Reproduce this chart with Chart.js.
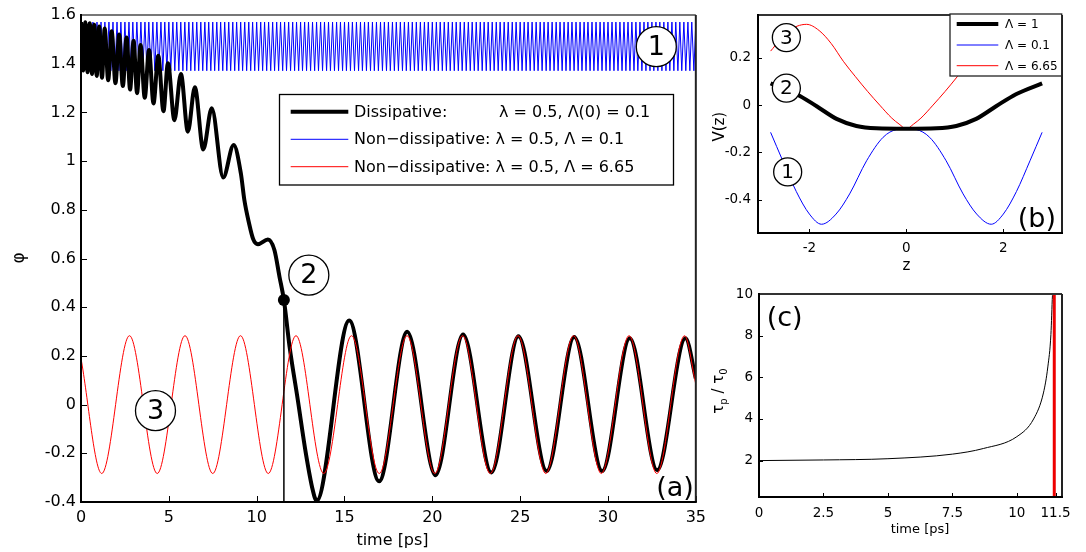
<!DOCTYPE html>
<html>
<head>
<meta charset="utf-8">
<title>Phase dynamics</title>
<script src="https://cdn.jsdelivr.net/npm/chart.js@4.4.1/dist/chart.umd.min.js"></script>
<style>
  html, body { margin: 0; padding: 0; background: #fff; }
  #wrap { position: relative; width: 1086px; height: 552px; overflow: hidden; background: #fff; }
  canvas { position: absolute; }
  #phaseChart { left: 0; top: 0; }
  #potentialChart { left: 700px; top: 0; }
  #ratioChart { left: 700px; top: 280px; }
</style>
</head>
<body>
<div id="wrap">
  <canvas id="phaseChart" width="712" height="552"></canvas>
  <canvas id="potentialChart" width="386" height="280"></canvas>
  <canvas id="ratioChart" width="386" height="272"></canvas>
</div>
<script>
const FONT = "'DejaVu Sans', sans-serif";

// (a) phase against time
const timeTicks = [0, 5, 10, 15, 20, 25, 30, 35];
const phiTicks = [-0.4, -0.2, 0, 0.2, 0.4, 0.6, 0.8, 1, 1.2, 1.4, 1.6];

// dissipative run, extrema and a few points on the fast descent
const dissTime = [
  0, 0.125, 0.244, 0.374, 0.499, 0.629, 0.754, 0.896, 1.037, 1.196,
  1.349, 1.548, 1.746, 1.961, 2.171, 2.381, 2.596, 2.795, 2.993, 3.192,
  3.39, 3.628, 3.872, 4.127, 4.399, 4.694, 4.949, 5.317, 5.686, 6.083,
  6.48, 6.961, 7.443, 8.095, 8.69, 9.1, 9.3, 9.55, 9.8, 10.07,
  10.64, 11.01, 11.3, 11.55, 11.87, 12.34, 12.8, 13.19, 13.41, 15.27,
  16.97, 18.57, 20.18, 21.75, 23.36, 24.9, 26.51, 28.08, 29.67, 31.24,
  32.8, 34.41, 35
];
const dissPhi = [
  1.571, 1.372, 1.570, 1.365, 1.566, 1.358, 1.560, 1.350, 1.553, 1.342,
  1.545, 1.332, 1.533, 1.320, 1.520, 1.308, 1.508, 1.294, 1.494, 1.279,
  1.477, 1.260, 1.456, 1.237, 1.433, 1.205, 1.402, 1.168, 1.358, 1.121,
  1.303, 1.048, 1.217, 0.933, 1.066, 0.95, 0.84, 0.75, 0.68, 0.659,
  0.678, 0.635, 0.525, 0.43, 0.24, 0.02, -0.2, -0.35, -0.395, 0.345,
  -0.315, 0.299, -0.29, 0.288, -0.279, 0.281, -0.273, 0.278, -0.273, 0.272,
  -0.269, 0.272, 0.107
];

// non-dissipative, Lambda = 0.1 (fast small oscillation near pi/2)
const blueTime = [
  0, 0.11, 0.23, 0.34, 0.45, 0.57, 0.68, 0.8, 0.91, 1.02, 1.14,
  1.25, 1.36, 1.48, 1.59, 1.7, 1.82, 1.93, 2.05, 2.16, 2.27, 2.39,
  2.5, 2.61, 2.73, 2.84, 2.95, 3.07, 3.18, 3.3, 3.41, 3.52, 3.64,
  3.75, 3.86, 3.98, 4.09, 4.2, 4.32, 4.43, 4.55, 4.66, 4.77, 4.89,
  5, 5.11, 5.23, 5.34, 5.45, 5.57, 5.68, 5.8, 5.91, 6.02, 6.14,
  6.25, 6.36, 6.48, 6.59, 6.7, 6.82, 6.93, 7.05, 7.16, 7.27, 7.39,
  7.5, 7.61, 7.73, 7.84, 7.95, 8.07, 8.18, 8.3, 8.41, 8.52, 8.64,
  8.75, 8.86, 8.98, 9.09, 9.2, 9.32, 9.43, 9.55, 9.66, 9.77, 9.89,
  10, 10.11, 10.23, 10.34, 10.45, 10.57, 10.68, 10.8, 10.91, 11.02, 11.14,
  11.25, 11.36, 11.48, 11.59, 11.7, 11.82, 11.93, 12.05, 12.16, 12.27, 12.39,
  12.5, 12.61, 12.73, 12.84, 12.95, 13.07, 13.18, 13.3, 13.41, 13.52, 13.64,
  13.75, 13.86, 13.98, 14.09, 14.2, 14.32, 14.43, 14.55, 14.66, 14.77, 14.89,
  15, 15.11, 15.23, 15.34, 15.45, 15.57, 15.68, 15.8, 15.91, 16.02, 16.14,
  16.25, 16.36, 16.48, 16.59, 16.7, 16.82, 16.93, 17.05, 17.16, 17.27, 17.39,
  17.5, 17.61, 17.73, 17.84, 17.95, 18.07, 18.18, 18.3, 18.41, 18.52, 18.64,
  18.75, 18.86, 18.98, 19.09, 19.2, 19.32, 19.43, 19.55, 19.66, 19.77, 19.89,
  20, 20.11, 20.23, 20.34, 20.45, 20.57, 20.68, 20.8, 20.91, 21.02, 21.14,
  21.25, 21.36, 21.48, 21.59, 21.7, 21.82, 21.93, 22.05, 22.16, 22.27, 22.39,
  22.5, 22.61, 22.73, 22.84, 22.95, 23.07, 23.18, 23.3, 23.41, 23.52, 23.64,
  23.75, 23.86, 23.98, 24.09, 24.2, 24.32, 24.43, 24.55, 24.66, 24.77, 24.89,
  25, 25.11, 25.23, 25.34, 25.45, 25.57, 25.68, 25.8, 25.91, 26.02, 26.14,
  26.25, 26.36, 26.48, 26.59, 26.7, 26.82, 26.93, 27.05, 27.16, 27.27, 27.39,
  27.5, 27.61, 27.73, 27.84, 27.95, 28.07, 28.18, 28.3, 28.41, 28.52, 28.64,
  28.75, 28.86, 28.98, 29.09, 29.2, 29.32, 29.43, 29.55, 29.66, 29.77, 29.89,
  30, 30.11, 30.23, 30.34, 30.45, 30.57, 30.68, 30.8, 30.91, 31.02, 31.14,
  31.25, 31.36, 31.48, 31.59, 31.7, 31.82, 31.93, 32.05, 32.16, 32.27, 32.39,
  32.5, 32.61, 32.73, 32.84, 32.95, 33.07, 33.18, 33.3, 33.41, 33.52, 33.64,
  33.75, 33.86, 33.98, 34.09, 34.2, 34.32, 34.43, 34.55, 34.66, 34.77, 34.89,
  35
];
const bluePhi = [
  1.571, 1.371, 1.571, 1.371, 1.571, 1.371, 1.571, 1.371, 1.571, 1.371, 1.571, 1.371, 1.571, 1.371, 1.571, 1.371, 1.571, 1.371, 1.571, 1.371, 1.571, 1.371,
  1.571, 1.371, 1.571, 1.371, 1.571, 1.371, 1.571, 1.371, 1.571, 1.371, 1.571, 1.371, 1.571, 1.371, 1.571, 1.371, 1.571, 1.371, 1.571, 1.371, 1.571, 1.371,
  1.571, 1.371, 1.571, 1.371, 1.571, 1.371, 1.571, 1.371, 1.571, 1.371, 1.571, 1.371, 1.571, 1.371, 1.571, 1.371, 1.571, 1.371, 1.571, 1.371, 1.571, 1.371,
  1.571, 1.371, 1.571, 1.371, 1.571, 1.371, 1.571, 1.371, 1.571, 1.371, 1.571, 1.371, 1.571, 1.371, 1.571, 1.371, 1.571, 1.371, 1.571, 1.371, 1.571, 1.371,
  1.571, 1.371, 1.571, 1.371, 1.571, 1.371, 1.571, 1.371, 1.571, 1.371, 1.571, 1.371, 1.571, 1.371, 1.571, 1.371, 1.571, 1.371, 1.571, 1.371, 1.571, 1.371,
  1.571, 1.371, 1.571, 1.371, 1.571, 1.371, 1.571, 1.371, 1.571, 1.371, 1.571, 1.371, 1.571, 1.371, 1.571, 1.371, 1.571, 1.371, 1.571, 1.371, 1.571, 1.371,
  1.571, 1.371, 1.571, 1.371, 1.571, 1.371, 1.571, 1.371, 1.571, 1.371, 1.571, 1.371, 1.571, 1.371, 1.571, 1.371, 1.571, 1.371, 1.571, 1.371, 1.571, 1.371,
  1.571, 1.371, 1.571, 1.371, 1.571, 1.371, 1.571, 1.371, 1.571, 1.371, 1.571, 1.371, 1.571, 1.371, 1.571, 1.371, 1.571, 1.371, 1.571, 1.371, 1.571, 1.371,
  1.571, 1.371, 1.571, 1.371, 1.571, 1.371, 1.571, 1.371, 1.571, 1.371, 1.571, 1.371, 1.571, 1.371, 1.571, 1.371, 1.571, 1.371, 1.571, 1.371, 1.571, 1.371,
  1.571, 1.371, 1.571, 1.371, 1.571, 1.371, 1.571, 1.371, 1.571, 1.371, 1.571, 1.371, 1.571, 1.371, 1.571, 1.371, 1.571, 1.371, 1.571, 1.371, 1.571, 1.371,
  1.571, 1.371, 1.571, 1.371, 1.571, 1.371, 1.571, 1.371, 1.571, 1.371, 1.571, 1.371, 1.571, 1.371, 1.571, 1.371, 1.571, 1.371, 1.571, 1.371, 1.571, 1.371,
  1.571, 1.371, 1.571, 1.371, 1.571, 1.371, 1.571, 1.371, 1.571, 1.371, 1.571, 1.371, 1.571, 1.371, 1.571, 1.371, 1.571, 1.371, 1.571, 1.371, 1.571, 1.371,
  1.571, 1.371, 1.571, 1.371, 1.571, 1.371, 1.571, 1.371, 1.571, 1.371, 1.571, 1.371, 1.571, 1.371, 1.571, 1.371, 1.571, 1.371, 1.571, 1.371, 1.571, 1.371,
  1.571, 1.371, 1.571, 1.371, 1.571, 1.371, 1.571, 1.371, 1.571, 1.371, 1.571, 1.371, 1.571, 1.371, 1.571, 1.371, 1.571, 1.371, 1.571, 1.371, 1.571, 1.371,
  1.571
];

// non-dissipative, Lambda = 6.65 (oscillation around zero)
const redTime = [
  0, 1.18, 2.76, 4.34, 5.92, 7.5, 9.08, 10.66, 12.24, 13.82, 15.4, 16.98,
  18.56, 20.14, 21.72, 23.3, 24.88, 26.46, 28.04, 29.62, 31.2, 32.78, 34.36, 35
];
const redPhi = [
  0.19, -0.283, 0.283, -0.283, 0.283, -0.283, 0.283, -0.283, 0.283, -0.283, 0.283, -0.283,
  0.283, -0.283, 0.283, -0.283, 0.283, -0.283, 0.283, -0.283, 0.283, -0.283, 0.283, 0.083
];

// switching moment marked on the dissipative curve
const switchTime = [11.55];
const switchPhi = [0.43];

// (b) potential V(z)
const zTicks = [-2, 0, 2];
const vTicks = [-0.4, -0.2, 0, 0.2];
const zBlack = [-2.8, -2.26, -1.85, -1.44, -1.03, -0.62, 0, 0.62, 1.03, 1.44, 1.85, 2.26, 2.8];
const vBlack = [0.092, 0.046, -0.005, -0.058, -0.088, -0.098, -0.1, -0.098, -0.088, -0.058, -0.005, 0.046, 0.092];
const zBlue = [-2.8, -2.55, -2.27, -2.0, -1.75, -1.45, -1.17, -0.82, -0.48, -0.2, 0, 0.2, 0.48, 0.82, 1.17, 1.45, 1.75, 2.0, 2.27, 2.55, 2.8];
const vBlue = [-0.115, -0.235, -0.365, -0.46, -0.503, -0.46, -0.375, -0.235, -0.136, -0.103, -0.1, -0.103, -0.136, -0.235, -0.375, -0.46, -0.503, -0.46, -0.365, -0.235, -0.115];
const zRed = [-2.8, -2.45, -2.06, -1.8, -1.55, -1.3, -1.05, -0.8, -0.55, -0.3, -0.15, 0, 0.15, 0.3, 0.55, 0.8, 1.05, 1.3, 1.55, 1.8, 2.06, 2.45, 2.8];
const vRed = [0.228, 0.31, 0.341, 0.315, 0.26, 0.185, 0.12, 0.058, 0.0, -0.055, -0.08, -0.1, -0.08, -0.055, 0.0, 0.058, 0.12, 0.185, 0.26, 0.315, 0.341, 0.31, 0.228];

// (c) tau_p / tau_0 against time
const ratioTimeTicks = [0, 2.5, 5, 7.5, 10, 11.5];
const ratioTicks = [2, 4, 6, 8, 10];
const ratioTime = [0, 2.5, 5, 7.5, 8.7, 10, 10.65, 11.03, 11.2, 11.32, 11.38, 11.42];
const ratioVal = [2, 2.03, 2.09, 2.31, 2.58, 3.15, 4.0, 5.25, 6.5, 8.06, 9.94, 10.6];
const cutoffTime = [11.45, 11.45];
const cutoffVal = [0.25, 10];

const pts = (xs, ys) => xs.map((x, i) => ({ x: x, y: ys[i] }));

// linear axis with fixed tick values and a fixed box size
function axis(min, max, values, size, pad, fit) {
  return {
    type: "linear",
    min: min,
    max: max,
    afterBuildTicks: (s) => {
      s.ticks = values.map((v) => ({ value: v }));
    },
    afterFit: fit,
    grid: { display: false, drawTicks: false },
    border: { display: false },
    ticks: {
      font: { family: FONT, size: size },
      color: "#000",
      padding: pad,
      autoSkip: false,
      maxRotation: 0,
      callback: (v) => String(v),
    },
  };
}

function baseOptions(padding, scales) {
  return {
    responsive: false,
    animation: false,
    events: [],
    layout: { padding: padding },
    plugins: { legend: { display: false }, tooltip: { enabled: false } },
    elements: {
      point: { radius: 0 },
      line: { cubicInterpolationMode: "monotone", borderJoinStyle: "round" },
    },
    scales: scales,
  };
}

// inward tick marks on left and bottom axes
function inwardTicks(ctx, a, x, y, len) {
  ctx.strokeStyle = "#000";
  ctx.lineWidth = 1;
  ctx.beginPath();
  x.ticks.forEach((t) => {
    const px = Math.round(x.getPixelForValue(t.value)) + 0.5;
    ctx.moveTo(px, a.bottom);
    ctx.lineTo(px, a.bottom - len);
  });
  y.ticks.forEach((t) => {
    const py = Math.round(y.getPixelForValue(t.value)) + 0.5;
    ctx.moveTo(a.left, py);
    ctx.lineTo(a.left + len, py);
  });
  ctx.stroke();
}

function box(ctx, a, colors, width) {
  ctx.lineWidth = width;
  const side = (c, x1, y1, x2, y2) => {
    ctx.strokeStyle = c;
    ctx.beginPath();
    ctx.moveTo(x1, y1);
    ctx.lineTo(x2, y2);
    ctx.stroke();
  };
  side(colors.top, a.left, a.top, a.right, a.top);
  side(colors.right, a.right, a.top, a.right, a.bottom);
  side(colors.bottom, a.left - 1, a.bottom, a.right + 1, a.bottom);
  side(colors.left, a.left, a.top - 1, a.left, a.bottom + 1);
}

function circled(ctx, x, y, r, text, size) {
  ctx.beginPath();
  ctx.arc(x, y, r, 0, Math.PI * 2);
  ctx.fillStyle = "#fff";
  ctx.fill();
  ctx.lineWidth = 1.3;
  ctx.strokeStyle = "#000";
  ctx.stroke();
  ctx.fillStyle = "#000";
  ctx.font = size + "px " + FONT;
  ctx.textAlign = "center";
  ctx.textBaseline = "middle";
  ctx.fillText(text, x, y + 1);
}

function rotatedText(ctx, text, x, y, size) {
  ctx.save();
  ctx.translate(x, y);
  ctx.rotate(-Math.PI / 2);
  ctx.font = size + "px " + FONT;
  ctx.fillStyle = "#000";
  ctx.textAlign = "center";
  ctx.textBaseline = "middle";
  ctx.fillText(text, 0, 0);
  ctx.restore();
}

function centeredText(ctx, text, x, y, size) {
  ctx.font = size + "px " + FONT;
  ctx.fillStyle = "#000";
  ctx.textAlign = "center";
  ctx.textBaseline = "middle";
  ctx.fillText(text, x, y);
}

// Panel (a)
const phaseDecor = {
  id: "phaseDecor",
  afterDatasetsDraw(chart) {
    const { ctx, chartArea: a, scales } = chart;
    const x = scales.x, y = scales.y;
    ctx.save();
    inwardTicks(ctx, a, x, y, 6);
    box(ctx, a, { top: "#777", right: "#222", bottom: "#000", left: "#000" }, 2);

    circled(ctx, x.getPixelForValue(32.75), y.getPixelForValue(1.47), 20, "1", 27);
    circled(ctx, x.getPixelForValue(12.97), y.getPixelForValue(0.532), 20, "2", 27);
    circled(ctx, x.getPixelForValue(4.24), y.getPixelForValue(-0.025), 20, "3", 27);

    // legend
    ctx.fillStyle = "#fff";
    ctx.fillRect(279.5, 94.5, 394, 90.5);
    ctx.strokeStyle = "#000";
    ctx.lineWidth = 1.3;
    ctx.strokeRect(279.5, 94.5, 394, 90.5);
    const rows = [
      { ds: 1, y: 111.7, parts: [["Dissipative:", 354], ["λ = 0.5, Λ(0) = 0.1", 499]] },
      { ds: 2, y: 139.3, parts: [["Non\u2212dissipative: λ = 0.5, Λ = 0.1", 354]] },
      { ds: 0, y: 166.7, parts: [["Non\u2212dissipative: λ = 0.5, Λ = 6.65", 354]] },
    ];
    rows.forEach((r) => {
      const d = chart.data.datasets[r.ds];
      ctx.strokeStyle = d.borderColor;
      ctx.lineWidth = d.borderWidth;
      ctx.beginPath();
      ctx.moveTo(290.7, r.y);
      ctx.lineTo(348.3, r.y);
      ctx.stroke();
      ctx.fillStyle = "#000";
      ctx.font = "16px " + FONT;
      ctx.textAlign = "left";
      ctx.textBaseline = "middle";
      r.parts.forEach((p) => ctx.fillText(p[0], p[1], r.y + 1));
    });

    ctx.font = "27px " + FONT;
    ctx.fillStyle = "#000";
    ctx.textAlign = "right";
    ctx.textBaseline = "alphabetic";
    ctx.fillText("(a)", a.right - 2, a.bottom - 6);

    centeredText(ctx, "time [ps]", 392.5, 541, 16);
    rotatedText(ctx, "φ", 20, 258, 17);
    ctx.restore();
  },
};

new Chart(document.getElementById("phaseChart").getContext("2d"), {
  type: "line",
  data: {
    datasets: [
      { label: "Λ = 6.65", data: pts(redTime, redPhi), borderColor: "#ff0000", borderWidth: 1, order: 1 },
      { label: "Dissipative", data: pts(dissTime, dissPhi), borderColor: "#000000", borderWidth: 4, order: 2 },
      { label: "Λ = 0.1", data: pts(blueTime, bluePhi), borderColor: "#0000ff", borderWidth: 1, tension: 0, cubicInterpolationMode: "default", order: 3 },
      {
        label: "switch",
        data: [{ x: switchTime[0], y: -0.4 }, { x: switchTime[0], y: switchPhi[0] }],
        borderColor: "#000000", borderWidth: 1.5, tension: 0, cubicInterpolationMode: "default", order: 0,
      },
      {
        label: "switch point",
        data: pts(switchTime, switchPhi),
        showLine: false, pointRadius: 6, pointBackgroundColor: "#000", pointBorderWidth: 0, order: -1,
      },
    ],
  },
  options: baseOptions({ left: 0, top: 15, right: 14, bottom: 0 }, {
    x: axis(0, 35, timeTicks, 16, 6, (s) => { s.height = 50; }),
    y: axis(-0.4, 1.6, phiTicks, 16, 5, (s) => { s.width = 81; }),
  }),
  plugins: [phaseDecor],
});

// Panel (b)
const potentialDecor = {
  id: "potentialDecor",
  afterDatasetsDraw(chart) {
    const { ctx, chartArea: a, scales } = chart;
    const x = scales.x, y = scales.y;
    ctx.save();
    inwardTicks(ctx, a, x, y, 4);
    box(ctx, a, { top: "#333", right: "#222", bottom: "#000", left: "#000" }, 2);

    circled(ctx, x.getPixelForValue(-2.475), y.getPixelForValue(0.285), 14, "3", 20);
    circled(ctx, x.getPixelForValue(-2.475), y.getPixelForValue(0.072), 14, "2", 20);
    circled(ctx, x.getPixelForValue(-2.448), y.getPixelForValue(-0.282), 14, "1", 20);

    // legend in the top right corner
    ctx.fillStyle = "#fff";
    ctx.fillRect(250, 14, 111.7, 62);
    ctx.strokeStyle = "#222";
    ctx.lineWidth = 1.3;
    ctx.strokeRect(250, 14, 111.7, 62);
    const rowY = [24, 45, 65.7];
    chart.data.datasets.forEach((d, i) => {
      ctx.strokeStyle = d.borderColor;
      ctx.lineWidth = d.borderWidth;
      ctx.beginPath();
      ctx.moveTo(256.7, rowY[i]);
      ctx.lineTo(298.3, rowY[i]);
      ctx.stroke();
      ctx.fillStyle = "#000";
      ctx.font = "12px " + FONT;
      ctx.textAlign = "left";
      ctx.textBaseline = "middle";
      ctx.fillText(d.label, 305, rowY[i] + 1);
    });

    ctx.font = "27px " + FONT;
    ctx.fillStyle = "#000";
    ctx.textAlign = "right";
    ctx.textBaseline = "alphabetic";
    ctx.fillText("(b)", a.right - 6, a.bottom - 6);

    centeredText(ctx, "z", 206.5, 266, 15);
    rotatedText(ctx, "V(z)", 20, 126.7, 15);
    ctx.restore();
  },
};

new Chart(document.getElementById("potentialChart").getContext("2d"), {
  type: "line",
  data: {
    datasets: [
      { label: "Λ = 1", data: pts(zBlack, vBlack), borderColor: "#000000", borderWidth: 4, order: 0 },
      { label: "Λ = 0.1", data: pts(zBlue, vBlue), borderColor: "#0000ff", borderWidth: 1, order: 2 },
      { label: "Λ = 6.65", data: pts(zRed, vRed), borderColor: "#ff0000", borderWidth: 1, order: 1 },
    ],
  },
  options: baseOptions({ left: 0, top: 14, right: 24, bottom: 0 }, {
    x: axis(-3.06, 3.21, zTicks, 13.5, 7, (s) => { s.height = 47; }),
    y: axis(-0.54, 0.38, vTicks, 13.5, 7, (s) => { s.width = 58; }),
  }),
  plugins: [potentialDecor],
});

// Panel (c)
const ratioDecor = {
  id: "ratioDecor",
  afterDatasetsDraw(chart) {
    const { ctx, chartArea: a, scales } = chart;
    ctx.save();
    inwardTicks(ctx, a, scales.x, scales.y, 4);
    box(ctx, a, { top: "#333", right: "#222", bottom: "#000", left: "#000" }, 2);

    ctx.font = "27px " + FONT;
    ctx.fillStyle = "#000";
    ctx.textAlign = "left";
    ctx.textBaseline = "alphabetic";
    ctx.fillText("(c)", a.left + 7.7, a.top + 31.7);

    centeredText(ctx, "time [ps]", 220, 250, 13);

    // tau_p / tau_0 with subscripts, rotated
    ctx.save();
    ctx.translate(19, 111);
    ctx.rotate(-Math.PI / 2);
    ctx.fillStyle = "#000";
    ctx.textBaseline = "middle";
    ctx.textAlign = "left";
    const parts = [["τ", 15, 0], ["p", 10, 5], [" / τ", 15, 0], ["0", 10, 5]];
    let w = 0;
    parts.forEach((p) => { ctx.font = p[1] + "px " + FONT; w += ctx.measureText(p[0]).width; });
    let cx = -w / 2;
    parts.forEach((p) => {
      ctx.font = p[1] + "px " + FONT;
      ctx.fillText(p[0], cx, p[2]);
      cx += ctx.measureText(p[0]).width;
    });
    ctx.restore();
    ctx.restore();
  },
};

new Chart(document.getElementById("ratioChart").getContext("2d"), {
  type: "line",
  data: {
    datasets: [
      { label: "ratio", data: pts(ratioTime, ratioVal), borderColor: "#000000", borderWidth: 1, order: 1 },
      { label: "cutoff", data: pts(cutoffTime, cutoffVal), borderColor: "#ee0000", borderWidth: 3, tension: 0, cubicInterpolationMode: "default", order: 0 },
    ],
  },
  options: baseOptions({ left: 0, top: 8, right: 24, bottom: 0 }, {
    x: axis(0, 11.75, ratioTimeTicks, 13.5, 8, (s) => { s.height = 55; }),
    y: axis(0.25, 10, ratioTicks, 13.5, 6, (s) => { s.width = 59; }),
  }),
  plugins: [ratioDecor],
});
</script>
</body>
</html>
